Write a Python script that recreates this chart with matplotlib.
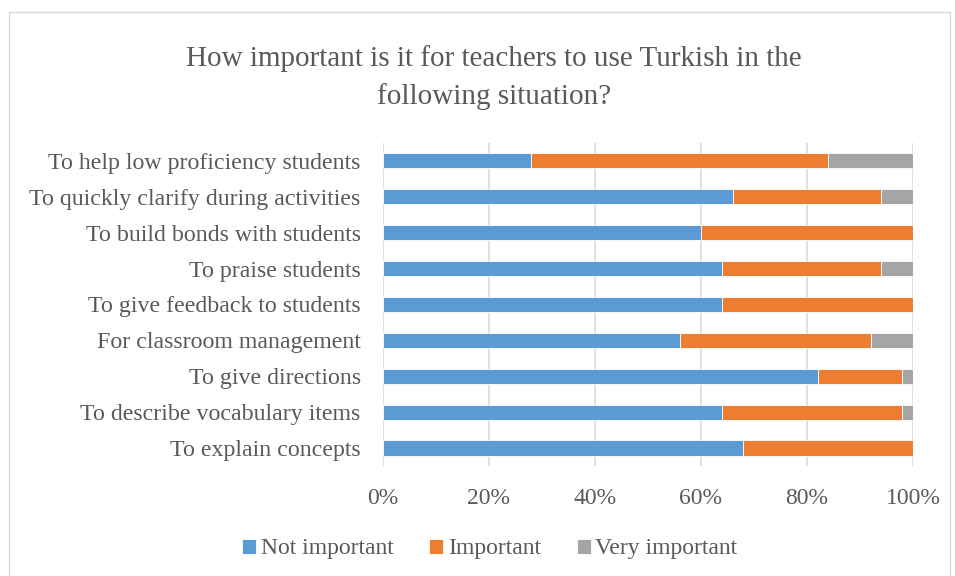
import numpy as np
import matplotlib
matplotlib.use("Agg")
import matplotlib.pyplot as plt
from matplotlib.patches import Rectangle

# datos (porcentajes, de abajo hacia arriba)
situations = [
    "To explain concepts",
    "To describe vocabulary items",
    "To give directions",
    "For classroom management",
    "To give feedback to students",
    "To praise students",
    "To build bonds with students",
    "To quickly clarify during activities",
    "To help low proficiency students",
]
not_important = [68, 64, 82, 56, 64, 64, 60, 66, 28]
important = [32, 34, 16, 36, 36, 30, 40, 28, 56]
very_important = [0, 2, 2, 8, 0, 6, 0, 6, 16]

series_names = ["Not important", "Important", "Very important"]
colors = ["#5B9BD5", "#ED7D31", "#A5A5A5"]
tick_vals = [0, 20, 40, 60, 80, 100]

plt.rcParams["font.family"] = ["Liberation Serif", "DejaVu Serif"]
text_color = "#595959"

fig = plt.figure(figsize=(9.55, 5.76), dpi=100)
ax = fig.add_axes([0.401, 0.191, 0.555, 0.561])

y = np.arange(len(situations))
left = np.zeros(len(situations))
for vals, name, c in zip([not_important, important, very_important], series_names, colors):
    vals = np.array(vals, dtype=float)
    ax.barh(y, vals, left=left, height=0.42, color=c, label=name,
            edgecolor="white", linewidth=0.6, zorder=3)
    left += vals

ax.set_xlim(0, 100)
ax.set_ylim(-0.5, len(situations) - 0.5)
ax.set_yticks(y)
ax.set_yticklabels(situations, fontsize=17.2, color=text_color)
ax.set_xticks(tick_vals)
ax.set_xticklabels([f"{v}%" for v in tick_vals], fontsize=17, color=text_color)
ax.tick_params(length=0)
ax.tick_params(axis="y", pad=16)
ax.tick_params(axis="x", pad=16)
ax.grid(axis="x", color="#D9D9D9", linewidth=1.2, zorder=0)
for s in ax.spines.values():
    s.set_visible(False)

fig.suptitle("How important is it for teachers to use Turkish in the\nfollowing situation?",
             x=0.517, y=0.922, fontsize=21, color=text_color, linespacing=1.55)

fig.legend(loc="center", bbox_to_anchor=(0.513, 0.047),
           ncol=3, frameon=False, fontsize=17, handlelength=0.6, handleheight=0.6,
           handletextpad=0.2, columnspacing=1.5, labelcolor=text_color)

# borde del área del gráfico
fig.patches.append(Rectangle((0.009, -0.01), 0.986, 0.99, transform=fig.transFigure,
                             fill=False, edgecolor="#D9D9D9", linewidth=1))

fig.savefig("out.png", dpi=100)
